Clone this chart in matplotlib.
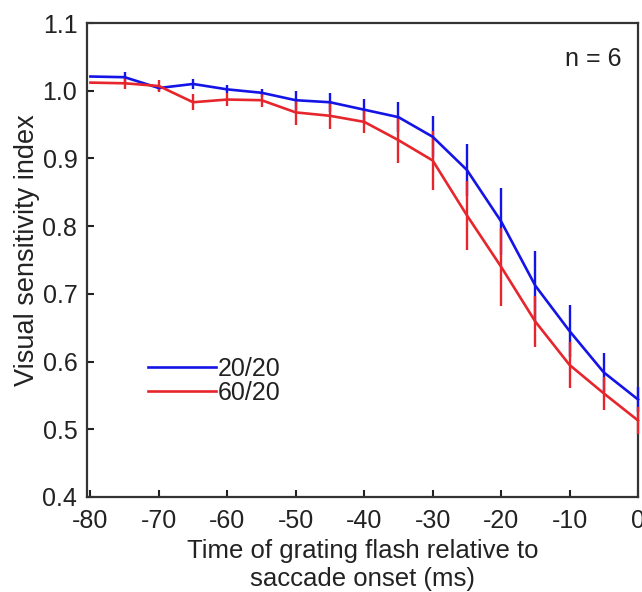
import matplotlib
matplotlib.use("Agg")
import matplotlib.pyplot as plt
from matplotlib.lines import Line2D
from matplotlib.ticker import FormatStrFormatter

plt.rcParams['font.family'] = ['Liberation Sans', 'DejaVu Sans']
plt.rcParams['axes.unicode_minus'] = False

# time of grating flash relative to saccade onset (ms)
times = [-80, -75, -70, -65, -60, -55, -50, -45, -40, -35, -30, -25, -20, -15, -10, -5, 0]

# 20/20 condition
blue_vals = [1.021, 1.020, 1.004, 1.010, 1.002, 0.997, 0.986, 0.983, 0.972, 0.961,
             0.932, 0.883, 0.807, 0.712, 0.645, 0.584, 0.544]
blue_err = [0.0, 0.008, 0.005, 0.008, 0.006, 0.006, 0.014, 0.014, 0.016, 0.022,
            0.030, 0.038, 0.050, 0.052, 0.038, 0.029, 0.018]

# 60/20 condition
red_vals = [1.012, 1.011, 1.007, 0.983, 0.987, 0.986, 0.968, 0.963, 0.954, 0.927,
            0.897, 0.816, 0.740, 0.659, 0.595, 0.553, 0.513]
red_err = [0.0, 0.008, 0.009, 0.012, 0.009, 0.010, 0.019, 0.020, 0.017, 0.033,
           0.043, 0.051, 0.058, 0.038, 0.034, 0.024, 0.020]

labels = ["20/20", "60/20"]
colors = ["#1414e6", "#e6262c"]
txt = '#222222'

fig = plt.figure(figsize=(6.42, 5.92), dpi=100)
ax = fig.add_axes([0.1355, 0.1605, 0.8583, 0.8006])

for vals, err, col in [(blue_vals, blue_err, colors[0]), (red_vals, red_err, colors[1])]:
    line, caps, bars = ax.errorbar(times, vals, yerr=err, color=col, lw=1.9,
                                   elinewidth=1.7, capsize=0, zorder=3)
    line.set_clip_on(False)
    for b in bars:
        b.set_clip_on(False)

ax.set_xlim(-80.5, 0)
ax.set_ylim(0.4, 1.1)
ax.set_xticks(range(-80, 1, 10))
ax.set_yticks([0.4, 0.5, 0.6, 0.7, 0.8, 0.9, 1.0, 1.1])
ax.yaxis.set_major_formatter(FormatStrFormatter('%.1f'))

ax.tick_params(direction='in', length=5, width=1.5, labelsize=18,
               colors=txt, top=False, right=False)
ax.tick_params(axis='x', pad=9)
ax.tick_params(axis='y', pad=7)
for sp in ax.spines.values():
    sp.set_linewidth(1.6)
    sp.set_color('#333333')

ax.set_xlabel("Time of grating flash relative to\nsaccade onset (ms)",
              fontsize=18.5, color=txt, labelpad=4, linespacing=1.2)
ax.set_ylabel("Visual sensitivity index", fontsize=19.5, color=txt)
ax.yaxis.set_label_coords(-0.085, 0.52)

ax.text(0.97, 0.925, "n = 6", transform=ax.transAxes, ha='right', va='center',
        fontsize=18, color=txt)

handles = [Line2D([], [], color=c, lw=1.9) for c in colors]
leg = ax.legend(handles, labels, loc='center left', bbox_to_anchor=(0.111, 0.245),
                frameon=False, fontsize=18, handlelength=2.7, handletextpad=0.1,
                labelspacing=0.0, borderpad=0, borderaxespad=0)
for t in leg.get_texts():
    t.set_color(txt)

fig.savefig("out.png", dpi=100)
